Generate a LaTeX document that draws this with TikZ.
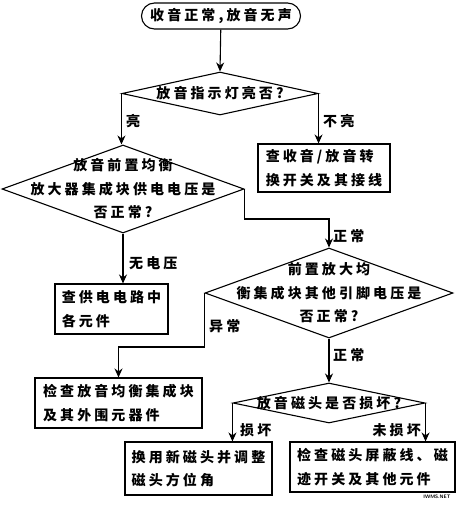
\documentclass[tikz,border=0pt]{standalone}
\usepackage{fontspec}
\usepackage{tikz}
\usetikzlibrary{calc,arrows.meta,shapes.geometric}
\newfontfamily\cjk{Noto Sans CJK SC}[LetterSpace=22]
\definecolor{ink}{HTML}{000000}
\definecolor{paper}{HTML}{FFFFFF}
\tikzset{
  base/.style={draw=ink, line width=1.1pt, line join=miter},
  arr/.style={base, -{Stealth[length=9pt,width=8pt]}},
  txt/.style={text=ink, font=\cjk\bfseries\fontsize{14pt}{23.5pt}\selectfont},
  box/.style={base, txt, rectangle, inner sep=0pt, align=left},
  startbox/.style={base, txt, rectangle, rounded corners=13pt, inner sep=0pt},
  dia/.style={base, diamond, inner sep=0pt},
  dtext/.style={txt, align=center, inner sep=0pt},
  lab/.style={txt, inner sep=0pt},
}
\begin{document}
\begin{tikzpicture}[x=1pt,y=-1pt]
  \useasboundingbox[fill=paper] (0,0) rectangle (467,509);
  % start and first question
  \node[startbox, minimum width=159pt, minimum height=26pt] (start) at (221,16) {收音正常,放音无声};
  \node[dia, minimum width=196pt, minimum height=43pt] (d1) at (220,93.5) {};
  \node[dtext] at (d1) {放音指示灯亮否?};
  % second level
  \node[dia, minimum width=242pt, minimum height=88pt] (d2) at (123,189) {};
  \node[dtext] at (d2) {放音前置均衡\\放大器集成块供电电压是\\否正常?};
  \node[box, minimum width=132pt, minimum height=48pt] (b1) at (324,168) {查收音/放音转\\换开关及其接线};
  % third level
  \node[dia, minimum width=248pt, minimum height=90pt] (d3) at (329,293) {};
  \node[dtext] at (d3) {前置放大均\\衡集成块其他引脚电压是\\否正常?};
  \node[box, minimum width=113pt, minimum height=50pt] (b2) at (111.5,309) {查供电电路中\\各元件};
  \node[box, minimum width=167pt, minimum height=50pt] (b4) at (118.5,403) {检查放音均衡集成块\\及其外围元器件};
  % head check
  \node[dia, minimum width=192pt, minimum height=40pt] (d4) at (329,403) {};
  \node[dtext] at (d4) {放音磁头是否损坏?};
  \node[box, minimum width=147pt, minimum height=53pt] (b5) at (198.5,468.5) {换用新磁头并调整\\磁头方位角};
  \node[box, minimum width=165pt, minimum height=50pt] (b6) at (372.5,467) {检查磁头屏蔽线、磁\\迹开关及其他元件};

  \draw[arr] (start) -- (d1.north);
  \draw[arr] (d1.west) -- (d1.west |- d2.north);
  \draw[arr] (d1.east) -- (d1.east |- b1.north);
  \draw[arr] (d2.east) -- ++(0,30) -| (d3.north);
  \draw[arr] (d2.south) -- (d2.south |- b2.north);
  \draw[arr] (d3.west) -- ++(0,54) -| (b4.north);
  \draw[arr] (d3.south) -- (d4.north);
  \draw[arr] (d4.west) -- (d4.west |- b5.north);
  \draw[arr] (d4.east) -- (d4.east |- b6.north);

  \node[lab, anchor=west] (l1) at (126,121) {亮};
  \node[lab, anchor=west] (l2) at (323,121) {不亮};
  \node[lab, anchor=west] (l3) at (333,236) {正常};
  \node[lab, anchor=west] (l4) at (129,263) {无电压};
  \node[lab, anchor=west] (l5) at (209,326) {异常};
  \node[lab, anchor=west] (l6) at (333,355) {正常};
  \node[lab, anchor=west] (l7) at (240,430) {损坏};
  \node[lab, anchor=east] (l8) at (421,430) {未损坏};
  \node[font=\sffamily\bfseries\fontsize{5pt}{5pt}\selectfont, inner sep=0pt] (mark) at (437,497) {IWMS.NET};
\end{tikzpicture}
\end{document}
